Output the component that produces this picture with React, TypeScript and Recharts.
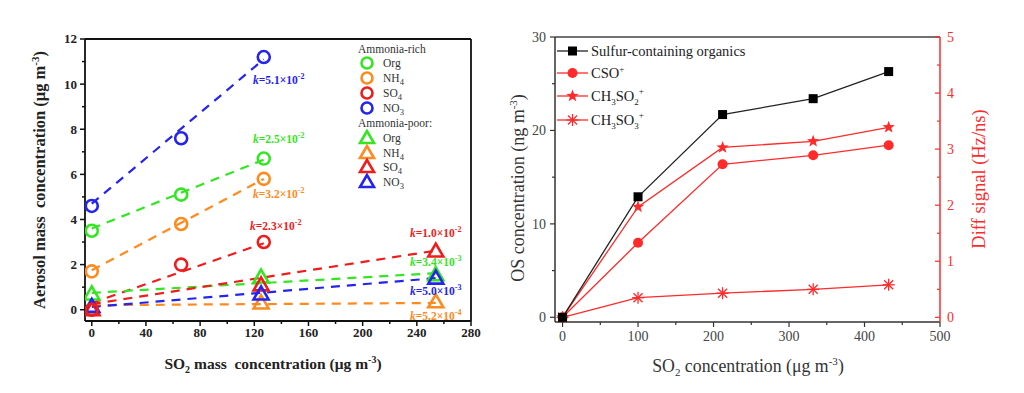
import React from 'react';
import { ComposedChart, Line, XAxis, YAxis } from 'recharts';

// ---------- Left panel data ----------
const richX = [0, 66, 127];
const richOrg = [3.5, 5.1, 6.7];
const richNH4 = [1.7, 3.8, 5.8];
const richSO4 = [0.0, 2.0, 3.0];
const richNO3 = [4.6, 7.6, 11.2];

const poorX = [0, 125, 254];
const poorOrg = [0.7, 1.45, 1.55];
const poorNH4 = [0.05, 0.3, 0.35];
const poorSO4 = [0.0, 1.1, 2.6];
const poorNO3 = [0.15, 0.7, 1.4];

// fitted trend-line end points
const fitRichX = [0, 127];
const fitRichOrg = [3.6, 6.65];
const fitRichNH4 = [1.75, 5.8];
const fitRichSO4 = [0.3, 2.95];
const fitRichNO3 = [4.7, 11.1];
const fitPoorX = [0, 254];
const fitPoorOrg = [0.75, 1.62];
const fitPoorNH4 = [0.2, 0.3];
const fitPoorSO4 = [0.25, 2.62];
const fitPoorNO3 = [0.12, 1.4];

const leftXTicks = [0, 40, 80, 120, 160, 200, 240, 280];
const leftXMinor = [20, 60, 100, 140, 180, 220, 260];
const leftYTicks = [0, 2, 4, 6, 8, 10, 12];
const leftYMinor = [1, 3, 5, 7, 9, 11];

// ---------- Right panel data ----------
const so2X = [0, 100, 212, 332, 432];
const sulfurOrganics = [0, 12.9, 21.7, 23.4, 26.3];
const csoSignal = [0, 1.33, 2.73, 2.89, 3.07];
const ch3so2Signal = [0, 1.97, 3.03, 3.14, 3.39];
const ch3so3Signal = [0, 0.35, 0.43, 0.5, 0.58];

const rightXTicks = [0, 100, 200, 300, 400, 500];
const rightXMinor = [50, 150, 250, 350, 450];
const osTicks = [0, 10, 20, 30];
const osMinor = [5, 15, 25];
const diffTicks = [0, 1, 2, 3, 4, 5];
const diffMinor = [0.5, 1.5, 2.5, 3.5, 4.5];

const FONT = "'Liberation Serif', 'Times New Roman', serif";
const GREEN = '#33e622';
const ORANGE = '#ff8a1e';
const RED = '#f01c1c';
const BLUE = '#2424ee';
const RRED = '#ff2a2a';

const toPts = (xs: number[], ys: number[]) => xs.map((x, i) => ({ x, y: ys[i] }));
const sortNum = (a: number[], b: number[]) => [...a, ...b].sort((p, q) => p - q);

type TickOpts = {
  majors: number[];
  color: string;
  textColor: string;
  fontSize: number;
  bold?: boolean;
  major: number;
  minor: number;
  gap: number;
  sw: number;
};

const bottomTick = (o: TickOpts) => (p: any) => {
  const v = p.payload.value;
  const isMajor = o.majors.includes(v);
  const len = isMajor ? o.major : o.minor;
  return (
    <g key={`bt${v}`}>
      <line x1={p.x} x2={p.x} y1={p.y} y2={p.y + len} stroke={o.color} strokeWidth={o.sw} />
      {isMajor && (
        <text x={p.x} y={p.y + len + o.gap + o.fontSize * 0.72} textAnchor="middle" fontFamily={FONT}
          fontSize={o.fontSize} fontWeight={o.bold ? 'bold' : 'normal'} fill={o.textColor}>
          {v}
        </text>
      )}
    </g>
  );
};

const leftTickFn = (o: TickOpts) => (p: any) => {
  const v = p.payload.value;
  const isMajor = o.majors.includes(v);
  const len = isMajor ? o.major : o.minor;
  return (
    <g key={`lt${v}`}>
      <line x1={p.x - len} x2={p.x} y1={p.y} y2={p.y} stroke={o.color} strokeWidth={o.sw} />
      {isMajor && (
        <text x={p.x - len - o.gap} y={p.y + o.fontSize * 0.34} textAnchor="end" fontFamily={FONT}
          fontSize={o.fontSize} fontWeight={o.bold ? 'bold' : 'normal'} fill={o.textColor}>
          {v}
        </text>
      )}
    </g>
  );
};

const rightInTick = (o: TickOpts) => (p: any) => {
  const v = p.payload.value;
  const isMajor = o.majors.includes(v);
  const len = isMajor ? o.major : o.minor;
  return (
    <g key={`rt${v}`}>
      <line x1={p.x - len} x2={p.x} y1={p.y} y2={p.y} stroke={o.color} strokeWidth={o.sw} />
      {isMajor && (
        <text x={p.x + o.gap} y={p.y + o.fontSize * 0.34} textAnchor="start" fontFamily={FONT}
          fontSize={o.fontSize} fill={o.textColor}>
          {v}
        </text>
      )}
    </g>
  );
};

const circleDot = (color: string) => (p: any) => (
  <circle key={`c${p.index}`} cx={p.cx} cy={p.cy} r={6} fill="none" stroke={color} strokeWidth={2.6} />
);
const triDot = (color: string) => (p: any) => (
  <polygon
    key={`t${p.index}`}
    points={`${p.cx},${p.cy - 7.5} ${p.cx - 7.5},${p.cy + 5.5} ${p.cx + 7.5},${p.cy + 5.5}`}
    fill="none"
    stroke={color}
    strokeWidth={2.6}
  />
);

const richSeries = [
  { key: 'rOrg', color: GREEN, vals: richOrg, fit: fitRichOrg },
  { key: 'rNH4', color: ORANGE, vals: richNH4, fit: fitRichNH4 },
  { key: 'rSO4', color: RED, vals: richSO4, fit: fitRichSO4 },
  { key: 'rNO3', color: BLUE, vals: richNO3, fit: fitRichNO3 },
];
const poorSeries = [
  { key: 'pOrg', color: GREEN, vals: poorOrg, fit: fitPoorOrg },
  { key: 'pNH4', color: ORANGE, vals: poorNH4, fit: fitPoorNH4 },
  { key: 'pSO4', color: RED, vals: poorSO4, fit: fitPoorSO4 },
  { key: 'pNO3', color: BLUE, vals: poorNO3, fit: fitPoorNO3 },
];

const LAX = '#111';
const leftXOpts: TickOpts = { majors: leftXTicks, color: LAX, textColor: '#222', fontSize: 13, bold: true, major: 5, minor: 3, gap: 2, sw: 1.5 };
const leftYOpts: TickOpts = { majors: leftYTicks, color: LAX, textColor: '#222', fontSize: 13, bold: true, major: 5, minor: 3, gap: 3, sw: 1.5 };

function LeftChart() {
  return (
    <ComposedChart width={500} height={393} margin={{ top: 38, right: 28, bottom: 71, left: 84 }}>
      <XAxis xAxisId={0} type="number" dataKey="x" domain={[-5, 280]} ticks={sortNum(leftXTicks, leftXMinor)} interval={0}
        allowDataOverflow height={1} tick={bottomTick(leftXOpts)} tickSize={0} tickMargin={0} tickLine={false}
        axisLine={{ stroke: LAX, strokeWidth: 1.8 }} />
      <XAxis xAxisId="top" orientation="top" type="number" dataKey="x" domain={[-5, 280]} height={1}
        tick={false} tickLine={false} axisLine={{ stroke: LAX, strokeWidth: 1.8 }} />
      <YAxis yAxisId={0} type="number" domain={[-0.5, 12]} ticks={sortNum(leftYTicks, leftYMinor)} interval={0} allowDataOverflow
        width={1} tick={leftTickFn(leftYOpts)} tickSize={0} tickMargin={0} tickLine={false}
        axisLine={{ stroke: LAX, strokeWidth: 1.8 }} />
      <YAxis yAxisId="rb" orientation="right" type="number" domain={[-0.5, 12]} width={1}
        tick={false} tickLine={false} axisLine={{ stroke: LAX, strokeWidth: 1.8 }} />
      {[...richSeries.map((s) => ({ ...s, fx: fitRichX })), ...poorSeries.map((s) => ({ ...s, fx: fitPoorX }))].map((s) => (
        <Line key={`fit-${s.key}`} data={toPts(s.fx, s.fit)} dataKey="y" stroke={s.color} strokeWidth={2.2}
          strokeDasharray="9 7" dot={false} isAnimationActive={false} />
      ))}
      {poorSeries.map((s) => (
        <Line key={`m-${s.key}`} data={toPts(poorX, s.vals)} dataKey="y" stroke="none"
          dot={triDot(s.color)} isAnimationActive={false} />
      ))}
      {richSeries.map((s) => (
        <Line key={`m-${s.key}`} data={toPts(richX, s.vals)} dataKey="y" stroke="none"
          dot={circleDot(s.color)} isAnimationActive={false} />
      ))}
    </ComposedChart>
  );
}

const squareDot = (p: any) => (
  <rect key={`s${p.index}`} x={p.cx - 4.5} y={p.cy - 4.5} width={9} height={9} fill="#000" />
);
const redCircleDot = (p: any) => <circle key={`rc${p.index}`} cx={p.cx} cy={p.cy} r={5} fill={RRED} />;
const starPoints = (cx: number, cy: number, ro: number, ri: number) => {
  const pts: string[] = [];
  for (let i = 0; i < 10; i++) {
    const r = i % 2 === 0 ? ro : ri;
    const a = -Math.PI / 2 + (i * Math.PI) / 5;
    pts.push(`${cx + r * Math.cos(a)},${cy + r * Math.sin(a)}`);
  }
  return pts.join(' ');
};
const starDot = (p: any) => <polygon key={`st${p.index}`} points={starPoints(p.cx, p.cy, 6.5, 2.7)} fill={RRED} />;
const asteriskShape = (cx: number, cy: number, r: number, k: string) => (
  <g key={k} stroke={RRED} strokeWidth={1.3}>
    <line x1={cx - r} y1={cy} x2={cx + r} y2={cy} />
    <line x1={cx} y1={cy - r} x2={cx} y2={cy + r} />
    <line x1={cx - r * 0.75} y1={cy - r * 0.75} x2={cx + r * 0.75} y2={cy + r * 0.75} />
    <line x1={cx - r * 0.75} y1={cy + r * 0.75} x2={cx + r * 0.75} y2={cy - r * 0.75} />
  </g>
);
const asteriskDot = (p: any) => asteriskShape(p.cx, p.cy, 6, `as${p.index}`);

const RAX = '#333';
const rightXOpts: TickOpts = { majors: rightXTicks, color: RAX, textColor: '#444', fontSize: 14, major: 5, minor: 3, gap: 4, sw: 1.2 };
const osOpts: TickOpts = { majors: osTicks, color: RAX, textColor: '#444', fontSize: 14, major: 5, minor: 3, gap: 4, sw: 1.2 };
const diffOpts: TickOpts = { majors: diffTicks, color: RRED, textColor: RRED, fontSize: 14, major: 5, minor: 3, gap: 7, sw: 1.2 };

function RightChart() {
  const data = so2X.map((x, i) => ({
    x,
    sulfur: sulfurOrganics[i],
    cso: csoSignal[i],
    ch3so2: ch3so2Signal[i],
    ch3so3: ch3so3Signal[i],
  }));
  return (
    <ComposedChart width={524} height={393} data={data} margin={{ top: 36, right: 83, bottom: 70, left: 54 }}>
      <XAxis xAxisId={0} type="number" dataKey="x" domain={[-10, 500]} ticks={sortNum(rightXTicks, rightXMinor)} interval={0}
        allowDataOverflow height={1} tick={bottomTick(rightXOpts)} tickSize={0} tickMargin={0} tickLine={false}
        axisLine={{ stroke: RAX, strokeWidth: 1.5 }} />
      <XAxis xAxisId="top" orientation="top" type="number" dataKey="x" domain={[-10, 500]} height={1}
        tick={false} tickLine={false} axisLine={{ stroke: '#444', strokeWidth: 1.5 }} />
      <YAxis yAxisId="os" type="number" domain={[-0.5, 30]} ticks={sortNum(osTicks, osMinor)} interval={0} allowDataOverflow
        width={1} tick={leftTickFn(osOpts)} tickSize={0} tickMargin={0} tickLine={false}
        axisLine={{ stroke: RAX, strokeWidth: 1.5 }} />
      <YAxis yAxisId="diff" orientation="right" type="number" domain={[-0.5 / 6, 5]} ticks={sortNum(diffTicks, diffMinor)} interval={0}
        allowDataOverflow width={1} tick={rightInTick(diffOpts)} tickSize={0} tickMargin={0} tickLine={false}
        axisLine={{ stroke: RRED, strokeWidth: 1.5 }} />
      <Line yAxisId="diff" dataKey="ch3so3" stroke={RRED} strokeWidth={1.3} dot={asteriskDot} isAnimationActive={false} />
      <Line yAxisId="diff" dataKey="cso" stroke={RRED} strokeWidth={1.3} dot={redCircleDot} isAnimationActive={false} />
      <Line yAxisId="diff" dataKey="ch3so2" stroke={RRED} strokeWidth={1.3} dot={starDot} isAnimationActive={false} />
      <Line yAxisId="os" dataKey="sulfur" stroke="#222" strokeWidth={1.3} dot={squareDot} isAnimationActive={false} />
    </ComposedChart>
  );
}

function KLabel({ x, y, color, mant, exp }: { x: number; y: number; color: string; mant: string; exp: string }) {
  return (
    <text x={x} y={y} fontFamily={FONT} fontSize={11.5} fontWeight="bold" fill={color}>
      <tspan fontStyle="italic">k</tspan>={mant}×10
      <tspan dy={-5} fontSize={8}>{exp}</tspan>
    </text>
  );
}

function Overlay() {
  const legText = { fontFamily: FONT, fontSize: 11.5, fill: '#333' } as any;
  const leftRows = [
    { y: 63, c: GREEN, label: 'Org', sub: '', tri: false },
    { y: 78, c: ORANGE, label: 'NH', sub: '4', tri: false },
    { y: 93, c: RED, label: 'SO', sub: '4', tri: false },
    { y: 108, c: BLUE, label: 'NO', sub: '3', tri: false },
    { y: 138, c: GREEN, label: 'Org', sub: '', tri: true },
    { y: 153, c: ORANGE, label: 'NH', sub: '4', tri: true },
    { y: 167, c: RED, label: 'SO', sub: '4', tri: true },
    { y: 182, c: BLUE, label: 'NO', sub: '3', tri: true },
  ];
  const rLeg = { fontFamily: FONT, fontSize: 14.5, fill: '#222' } as any;
  return (
    <svg width={1024} height={393} style={{ position: 'absolute', left: 0, top: 0, pointerEvents: 'none' }}>
      {/* left legend */}
      <text x={358} y={53} {...legText}>Ammonia-rich</text>
      <text x={358} y={127} {...legText}>Ammonia-poor:</text>
      {leftRows.map((r, i) => (
        <g key={i}>
          {r.tri ? (
            <polygon points={`${367},${r.y - 7} ${360},${r.y + 5} ${374},${r.y + 5}`} fill="none" stroke={r.c} strokeWidth={2.6} />
          ) : (
            <circle cx={367} cy={r.y} r={5.5} fill="none" stroke={r.c} strokeWidth={2.6} />
          )}
          <text x={383} y={r.y + 4} {...legText}>
            {r.label}
            {r.sub && <tspan dy={3} fontSize={8.5}>{r.sub}</tspan>}
          </text>
        </g>
      ))}

      {/* slope labels */}
      <KLabel x={253} y={84} color={BLUE} mant="5.1" exp="-2" />
      <KLabel x={253} y={143} color={GREEN} mant="2.5" exp="-2" />
      <KLabel x={253} y={198} color={ORANGE} mant="3.2" exp="-2" />
      <KLabel x={250} y={230} color={RED} mant="2.3" exp="-2" />
      <KLabel x={410} y={237} color={RED} mant="1.0" exp="-2" />
      <KLabel x={410} y={266} color={GREEN} mant="3.4" exp="-3" />
      <KLabel x={410} y={295} color={BLUE} mant="5.0" exp="-3" />
      <KLabel x={410} y={320} color={ORANGE} mant="5.2" exp="-4" />

      {/* left axis titles */}
      <text transform="rotate(-90 45 180)" x={45} y={180} textAnchor="middle" fontFamily={FONT} fontSize={16.5}
        fontWeight="bold" fill="#222" style={{ whiteSpace: 'pre' }}>
        Aerosol mass  concentration (μg m<tspan dy={-6} fontSize={11}>-3</tspan><tspan dy={6}>)</tspan>
      </text>
      <text x={273} y={369} textAnchor="middle" fontFamily={FONT} fontSize={15.5} fontWeight="bold" fill="#222"
        style={{ whiteSpace: 'pre' }}>
        SO<tspan dy={4} fontSize={10}>2</tspan><tspan dy={-4}> mass  concentration (μg m</tspan>
        <tspan dy={-6} fontSize={10}>-3</tspan><tspan dy={6}>)</tspan>
      </text>

      {/* right legend */}
      {[
        { y: 51, kind: 'sq' },
        { y: 73, kind: 'ci' },
        { y: 96, kind: 'st' },
        { y: 120, kind: 'as' },
      ].map((r, i) => (
        <g key={`rl${i}`}>
          <line x1={557} x2={588} y1={r.y} y2={r.y} stroke={r.kind === 'sq' ? '#222' : RRED} strokeWidth={1.3} />
          {r.kind === 'sq' && <rect x={568} y={r.y - 4.5} width={9} height={9} fill="#000" />}
          {r.kind === 'ci' && <circle cx={572.5} cy={r.y} r={5} fill={RRED} />}
          {r.kind === 'st' && <polygon points={starPoints(572.5, r.y, 6.5, 2.7)} fill={RRED} />}
          {r.kind === 'as' && asteriskShape(572.5, r.y, 6, 'lgas')}
        </g>
      ))}
      <text x={591} y={56} {...rLeg}>Sulfur-containing organics</text>
      <text x={591} y={78} {...rLeg}>CSO<tspan dy={-6} fontSize={9}>+</tspan></text>
      <text x={591} y={101} {...rLeg}>
        CH<tspan dy={4} fontSize={9}>3</tspan><tspan dy={-4}>SO</tspan><tspan dy={4} fontSize={9}>2</tspan>
        <tspan dy={-11} fontSize={9}>+</tspan>
      </text>
      <text x={591} y={125} {...rLeg}>
        CH<tspan dy={4} fontSize={9}>3</tspan><tspan dy={-4}>SO</tspan><tspan dy={4} fontSize={9}>3</tspan>
        <tspan dy={-11} fontSize={9}>+</tspan>
      </text>

      {/* right axis titles */}
      <text transform="rotate(-90 524 188)" x={524} y={188} textAnchor="middle" fontFamily={FONT} fontSize={18} fill="#333">
        OS concentration (ng m<tspan dy={-7} fontSize={11}>-3</tspan><tspan dy={7}>)</tspan>
      </text>
      <text transform="rotate(-90 985 179)" x={985} y={179} textAnchor="middle" fontFamily={FONT} fontSize={18.5} fill={RRED}>
        Diff signal (Hz/ns)
      </text>
      <text x={748} y={372} textAnchor="middle" fontFamily={FONT} fontSize={17.8} fill="#333">
        SO<tspan dy={4} fontSize={11}>2</tspan><tspan dy={-4}> concentration (μg m</tspan>
        <tspan dy={-7} fontSize={11}>-3</tspan><tspan dy={7}>)</tspan>
      </text>
    </svg>
  );
}

export default function App() {
  return (
    <div style={{ position: 'absolute', left: 0, top: 0, width: 1024, height: 393, background: '#fff', overflow: 'hidden' }}>
      <div style={{ position: 'absolute', left: 0, top: 0 }}>
        <LeftChart />
      </div>
      <div style={{ position: 'absolute', left: 500, top: 0 }}>
        <RightChart />
      </div>
      <Overlay />
    </div>
  );
}
